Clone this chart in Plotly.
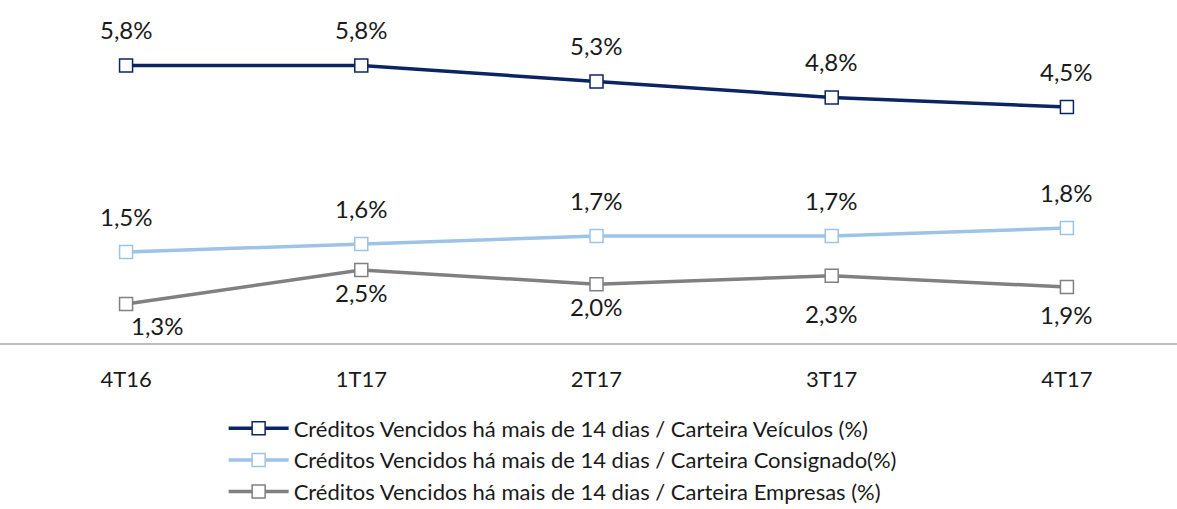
import plotly.graph_objects as go

# Quarters on the x axis
quarters = ["4T16", "1T17", "2T17", "3T17", "4T17"]

# Overdue (>14 days) ratios, in percent
veiculos = [5.8, 5.8, 5.3, 4.8, 4.5]
consignado = [1.5, 1.6, 1.7, 1.7, 1.8]
empresas = [1.3, 2.5, 2.0, 2.3, 1.9]

names = [
    "Créditos Vencidos há mais de 14 dias / Carteira Veículos (%)",
    "Créditos Vencidos há mais de 14 dias / Carteira Consignado(%)",
    "Créditos Vencidos há mais de 14 dias / Carteira Empresas (%)",
]
colors = ["#0B2462", "#9DC3E6", "#808080"]

FONT = "Lato"
TEXT = "#1a1a1a"


def fmt(v):
    return f"{v:.1f}%".replace(".", ",")


fig = go.Figure()
series = [veiculos, consignado, empresas]
axes = ["y", "y2", "y3"]
for vals, name, color, ax in zip(series, names, colors, axes):
    fig.add_trace(go.Scatter(
        x=quarters, y=vals, name=name, yaxis=ax,
        mode="lines+markers",
        line=dict(color=color, width=3.5),
        marker=dict(symbol="square", size=13, color="white",
                    line=dict(color=color, width=1.5)),
    ))

# value labels: first two series above their points, the third below
label_offsets = [
    ([0] * 5, [36] * 5),
    ([0] * 5, [36] * 5),
    ([31, 0, 0, 0, 0], [-21, -22, -22, -38, -27]),
]
for vals, ax, (dx, dy) in zip(series, axes, label_offsets):
    for q, v, sx, sy in zip(quarters, vals, dx, dy):
        fig.add_annotation(
            x=q, y=v, xref="x", yref=ax, text=fmt(v), showarrow=False,
            xshift=sx, yshift=sy, font=dict(family=FONT, size=24, color=TEXT),
        )

hidden = dict(visible=False, showgrid=False, zeroline=False, fixedrange=True)
fig.update_layout(
    width=1177, height=509,
    margin=dict(l=0, r=0, t=0, b=166, autoexpand=False),
    paper_bgcolor="white", plot_bgcolor="white",
    font=dict(family=FONT, size=22, color=TEXT),
    xaxis=dict(
        type="category", range=[-0.536, 4.468],
        showline=True, linecolor="#BDBDBD", linewidth=2,
        showgrid=False, ticks="", ticklabelstandoff=16,
        tickfont=dict(family=FONT, size=22, color=TEXT),
    ),
    yaxis=dict(range=[-2.875, 7.845], **hidden),
    yaxis2=dict(range=[0.3625, 4.65], overlaying="y", **hidden),
    yaxis3=dict(range=[-0.078, 12.04], overlaying="y", **hidden),
    showlegend=True,
    legend=dict(
        orientation="v", x=0.19, xanchor="left", y=-0.188, yanchor="top",
        font=dict(family=FONT, size=22, color=TEXT),
        tracegroupgap=0, itemwidth=60,
    ),
)

fig.write_html("out.html")
